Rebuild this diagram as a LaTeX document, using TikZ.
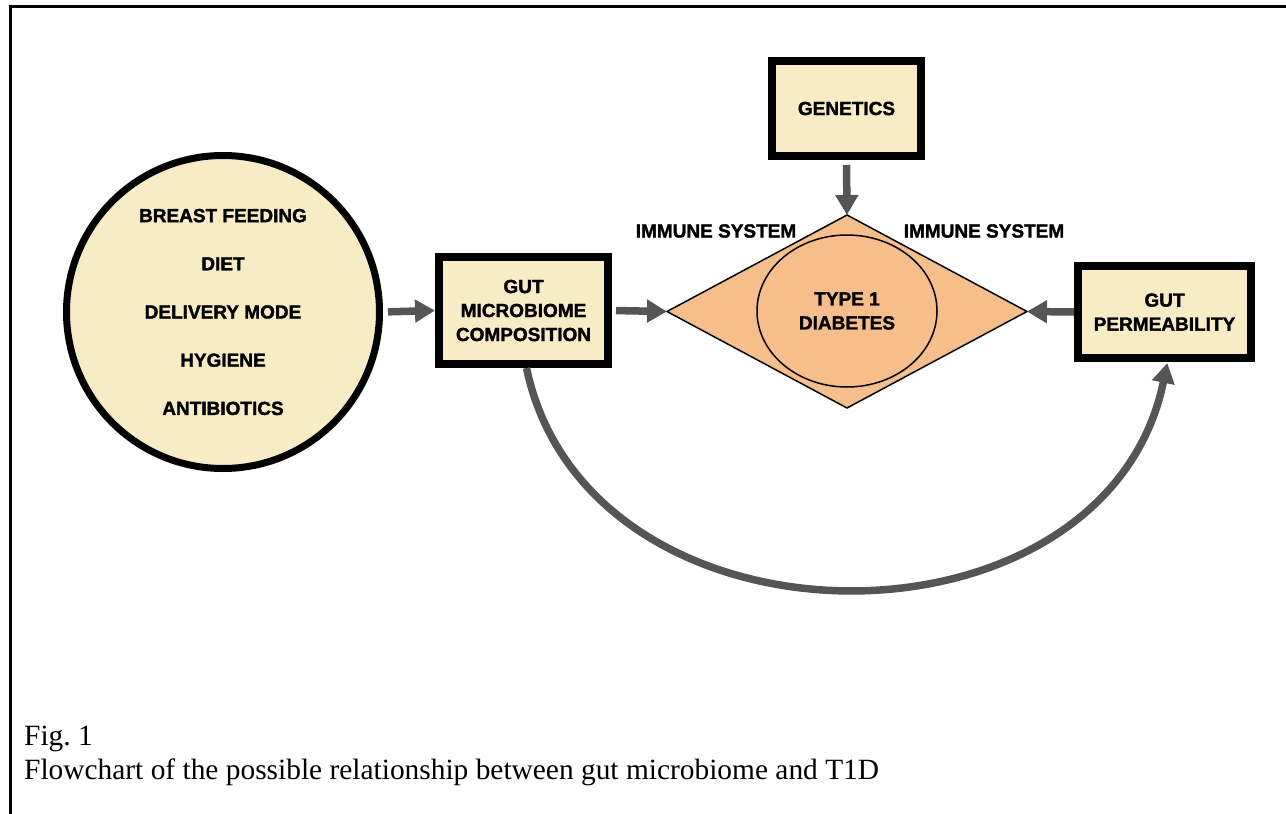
\documentclass[tikz,border=0pt]{standalone}
\usepackage{fontspec}
\setmainfont{Liberation Serif}
\newfontfamily\heavy{Liberation Sans}[BoldFeatures={FakeBold=1.6}]
\usetikzlibrary{arrows.meta,shapes.geometric}
\definecolor{cream}{HTML}{F8ECC6}
\definecolor{peach}{HTML}{F5BE8B}
\definecolor{arrgrey}{HTML}{555555}
\tikzset{
  lab/.style={font=\heavy\bfseries\fontsize{19}{24}\selectfont, align=center, text=black},
  boxnode/.style={draw=black, fill=cream, line width=8pt, inner sep=0pt, lab},
  arr/.style={draw=arrgrey, line width=7.5pt, -{Triangle[length=20pt,width=22pt]}},
}
\begin{document}
\begin{tikzpicture}[x=1pt,y=-1pt]
\useasboundingbox (0,0) rectangle (1286,814);
% frame
\draw[line width=2.5pt] (1286,6.3) -- (10.5,6.3) -- (10.5,814);
% environment circle
\node[circle, draw=black, fill=cream, line width=7pt, minimum size=313pt, inner sep=0pt,
      lab, font=\heavy\bfseries\fontsize{19}{48.2}\selectfont] (env) at (223,312)
  {BREAST FEEDING\\DIET\\DELIVERY MODE\\HYGIENE\\ANTIBIOTICS};
% boxes
\node[boxnode, minimum width=169pt, minimum height=107pt] (gut) at (523.5,310.5)
  {GUT\\MICROBIOME\\COMPOSITION};
\node[boxnode, minimum width=149pt, minimum height=95pt] (gen) at (846.5,108.5)
  {GENETICS};
\node[boxnode, minimum width=173pt, minimum height=92pt] (perm) at (1164.5,312)
  {GUT\\PERMEABILITY};
% diamond and inner ellipse
\node[diamond, draw=black, fill=peach, line width=1.5pt, minimum width=360pt,
      minimum height=193pt, inner sep=0pt, outer sep=0pt] (dia) at (847,311.5) {};
\node[ellipse, draw=black, line width=1.5pt, minimum width=180pt, minimum height=152pt,
      inner sep=0pt, lab] (t1d) at (847,311) {TYPE 1\\DIABETES};
% immune system labels
\node[lab] (imL) at (716,231) {IMMUNE SYSTEM};
\node[lab] (imR) at (984,231) {IMMUNE SYSTEM};
% connectors
\draw[arr, shorten <=5pt] (env.east) -- (gut.west);
\draw[arr, shorten <=4pt] (gut.east) -- (dia.west);
\draw[arr] (perm.west) -- (dia.east);
\draw[arr, shorten <=5pt] (gen.south) -- (dia.north);
\draw[arr, shorten >=1pt] ([xshift=3pt]gut.south) .. controls +(62,295) and +(-62,301) .. ([xshift=3pt]perm.south);
% caption
\node[anchor=base west, inner sep=0pt, font=\fontsize{29.4}{33}\selectfont] (fig) at (24,745) {Fig.\ 1};
\node[anchor=base west, inner sep=0pt, font=\fontsize{29.4}{33}\selectfont] (cap) at (24,779)
  {Flowchart of the possible relationship between gut microbiome and T1D};
\end{tikzpicture}
\end{document}
